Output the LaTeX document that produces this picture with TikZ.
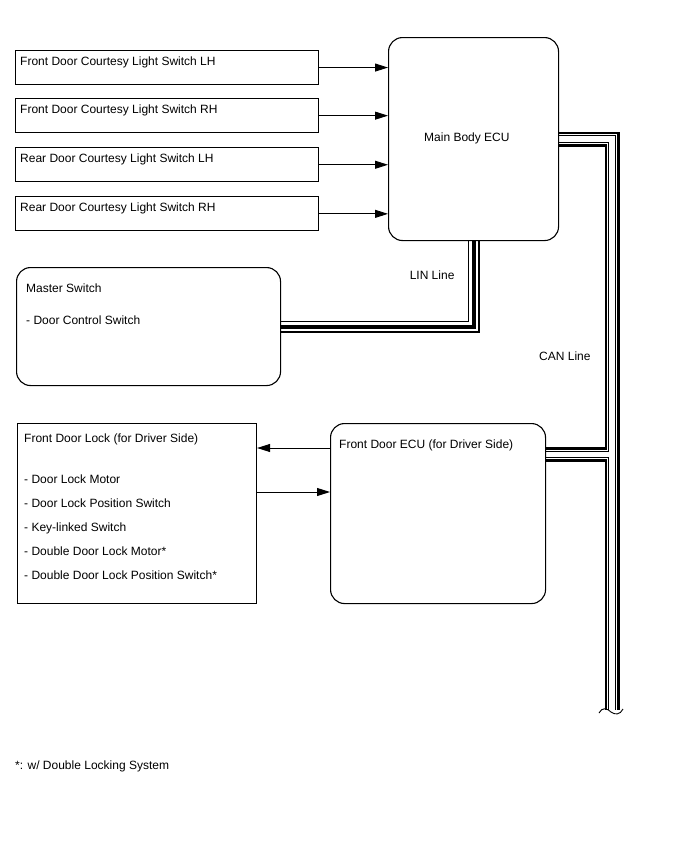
\documentclass[tikz,border=0pt]{standalone}
\usepackage{fontspec}
\setmainfont{Liberation Sans}
\usetikzlibrary{arrows.meta,positioning,calc,backgrounds}

\begin{document}
\begin{tikzpicture}[
  x=1pt, y=-1pt,
  font=\fontsize{12}{14}\selectfont,
  swbox/.style={draw, line width=1.1pt, minimum width=303pt, minimum height=34pt, anchor=north west, inner sep=0pt},
  ecubox/.style={draw, line width=1.1pt, rounded corners=14pt, anchor=north west, inner sep=0pt},
  lbl/.style={anchor=base west, inner sep=0pt},
  arrow/.style={-{Triangle[length=13pt,width=8pt]}, line width=0.9pt},
  breakline/.style={line width=0.9pt}
]
  \useasboundingbox (0,0) rectangle (688,852);

  % switches to the main body ECU
  \node[swbox] (sw1) at (15,50) {};
  \node[swbox, below=13pt of sw1] (sw2) {};
  \node[swbox, below=14pt of sw2] (sw3) {};
  \node[swbox, below=14pt of sw3] (sw4) {};
  \node[lbl] (sw1t) at ($(sw1.north west)+(5,15.3)$) {Front Door Courtesy Light Switch LH};
  \node[lbl] (sw2t) at ($(sw2.north west)+(5,15.3)$) {Front Door Courtesy Light Switch RH};
  \node[lbl] (sw3t) at ($(sw3.north west)+(5,15.3)$) {Rear Door Courtesy Light Switch LH};
  \node[lbl] (sw4t) at ($(sw4.north west)+(5,15.3)$) {Rear Door Courtesy Light Switch RH};

  \node[ecubox, minimum width=170pt, minimum height=203pt] (mainecu) at (388,37) {};
  \node[lbl] (mainecut) at ($(mainecu.north west)+(36,104.3)$) {Main Body ECU};

  \node[ecubox, minimum width=264pt, minimum height=118pt] (master) at (16,267) {};
  \node[lbl] (mastert) at ($(master.north west)+(10,25.3)$) {Master Switch};
  \node[lbl] (master1) at ($(master.north west)+(10,57.3)$) {- Door Control Switch};

  \node[ecubox, minimum width=215pt, minimum height=180pt] (fdecu) at (330,423) {};
  \node[lbl] (fdecut) at ($(fdecu.north west)+(9,25.3)$) {Front Door ECU (for Driver Side)};

  \node[swbox, minimum width=239pt, minimum height=180pt] (lock) at (17,423) {};
  \node[lbl] (lockt) at ($(lock.north west)+(7,19.3)$) {Front Door Lock (for Driver Side)};
  \node[lbl] (lock1) at ($(lock.north west)+(7,60.3)$) {- Door Lock Motor};
  \node[lbl] (lock2) at ($(lock.north west)+(7,84.3)$) {- Door Lock Position Switch};
  \node[lbl] (lock3) at ($(lock.north west)+(7,108.3)$) {- Key-linked Switch};
  \node[lbl] (lock4) at ($(lock.north west)+(7,132.3)$) {- Double Door Lock Motor*};
  \node[lbl] (lock5) at ($(lock.north west)+(7,156.3)$) {- Double Door Lock Position Switch*};

  \node[lbl] (linlbl) at ($(mainecu.south)+(-64,38.3)$) {LIN Line};
  \node[lbl] (canlbl) at (539,360.3) {CAN Line};
  \node[lbl] (note) at (15,769.3) {*: w/ Double Locking System};

  \draw[arrow] (sw1.east) -- (sw1.east -| mainecu.west);
  \draw[arrow] (sw2.east) -- (sw2.east -| mainecu.west);
  \draw[arrow] (sw3.east) -- (sw3.east -| mainecu.west);
  \draw[arrow] (sw4.east) -- (sw4.east -| mainecu.west);
  \draw[arrow] ($(fdecu.north west)+(0,25)$) -- ($(lock.north east)+(0,25)$);
  \draw[arrow] ($(lock.north east)+(0,69)$) -- ($(fdecu.north west)+(0,69)$);

  % bus lines
  \coordinate (canend) at (612,710);
  \coordinate (canbr) at ($(fdecu.north east)+(0,31.5)$);
  \begin{scope}[on background layer]
    \foreach \w/\c in {12/black, 9/white, 4/black}
      \draw[line width=\w pt, draw=\c, line join=miter] (mainecu.south) |- (master.east);
    \foreach \w/\c in {15/black, 9.4/white, 7.6/black, 5.6/white}
      \draw[line width=\w pt, draw=\c, line join=miter] (mainecu.east) -| (canend) (canbr) -- (canbr -| canend);
  \end{scope}
  \draw[breakline] ($(canend)+(-13,3)$) .. controls ($(canend)+(-10,-3)$) and ($(canend)+(-5,-2)$) .. ($(canend)+(-1,2)$)
    .. controls ($(canend)+(3,5)$) and ($(canend)+(8,5)$) .. ($(canend)+(11,-1)$);
\end{tikzpicture}
\end{document}
